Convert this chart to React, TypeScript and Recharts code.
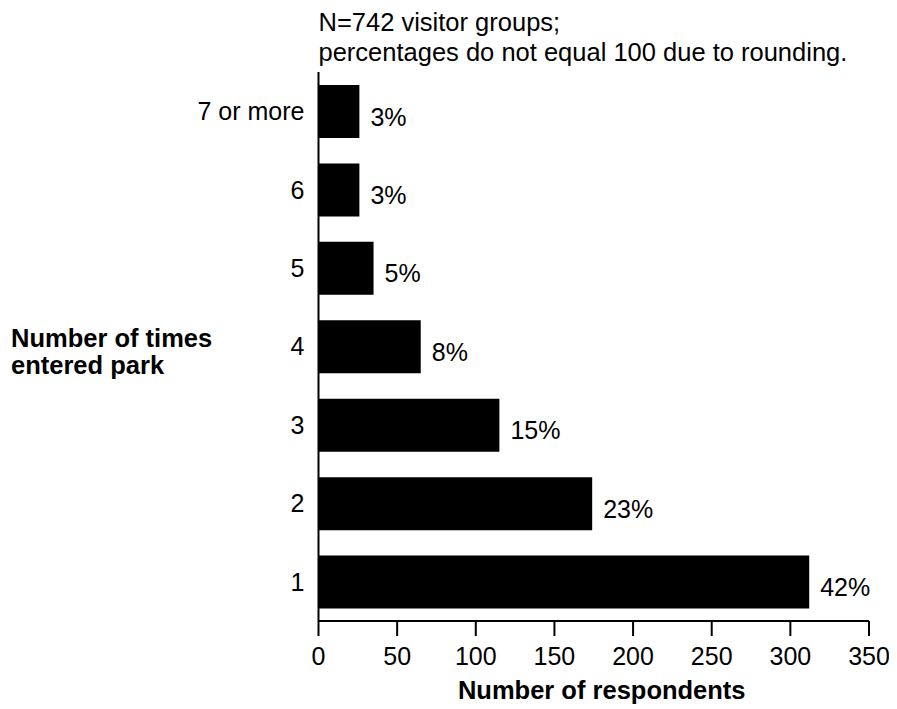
import React from 'react';
import { BarChart, Bar, XAxis, YAxis, LabelList, Label } from 'recharts';

const categories = ['7 or more', '6', '5', '4', '3', '2', '1'];
const respondents = [26, 26, 35, 65, 115, 174, 312];
const percentLabels = ['3%', '3%', '5%', '8%', '15%', '23%', '42%'];
const xTicks = [0, 50, 100, 150, 200, 250, 300, 350];
const noteLines = ['N=742 visitor groups;', 'percentages do not equal 100 due to rounding.'];
const yTitleLines = ['Number of times', 'entered park'];
const xTitle = 'Number of respondents';

const data = categories.map((c, i) => ({ category: c, value: respondents[i], pct: percentLabels[i] }));

const FONT = '"Liberation Sans", Arial, Helvetica, sans-serif';
const TICK_FS = 25;
const TITLE_FS = 25.5;

const PctLabel = (props: any) => {
  const vb = props.viewBox || {};
  const x = props.x ?? vb.x;
  const y = props.y ?? vb.y;
  const width = props.width ?? vb.width;
  const height = props.height ?? vb.height;
  const idx = props.index;
  const text = percentLabels[idx] ?? props.value;
  return (
    <text x={x + width + 11} y={y + height / 2 + 14} fontSize={TICK_FS} fontFamily={FONT} fill="#000" textAnchor="start">
      {text}
    </text>
  );
};

const YTitle = (props: any) => {
  const vb = props.viewBox;
  const cy = vb.y + vb.height / 2;
  return (
    <g>
      <text x={vb.x + 1} y={cy + 0.5} fontSize={TITLE_FS} fontWeight="bold" fontFamily={FONT} fill="#000">
        {yTitleLines[0]}
      </text>
      <text x={vb.x + 1} y={cy + 27.5} fontSize={TITLE_FS} fontWeight="bold" fontFamily={FONT} fill="#000">
        {yTitleLines[1]}
      </text>
      <text x={vb.x + vb.width} y={vb.y - 41} fontSize={TITLE_FS} fontFamily={FONT} fill="#000">
        {noteLines[0]}
      </text>
      <text x={vb.x + vb.width} y={vb.y - 11} fontSize={TITLE_FS} fontFamily={FONT} fill="#000">
        {noteLines[1]}
      </text>
    </g>
  );
};

const XTitle = (props: any) => {
  const vb = props.viewBox;
  return (
    <text x={vb.x + vb.width / 2 + 8} y={vb.y + 78} fontSize={TITLE_FS} fontWeight="bold" fontFamily={FONT} fill="#000" textAnchor="middle">
      {xTitle}
    </text>
  );
};

export default function App() {
  return (
    <div style={{ width: 889, height: 700, background: '#fff' }}>
      <BarChart
        width={889}
        height={700}
        data={data}
        layout="vertical"
        margin={{ top: 64, right: 28, bottom: 27, left: 2 }}
        barSize={53}
      >
        <XAxis
          type="number"
          dataKey="value"
          domain={[0, 350]}
          ticks={xTicks}
          interval={0}
          height={60}
          tickSize={15}
          tickMargin={11}
          axisLine={{ stroke: '#000', strokeWidth: 2 }}
          tickLine={{ stroke: '#000', strokeWidth: 2 }}
          tick={{ fill: '#000', fontSize: TICK_FS, fontFamily: FONT }}
        >
          <Label content={XTitle} />
        </XAxis>
        <YAxis
          type="category"
          dataKey="category"
          width={308.5}
          tickLine={false}
          tickSize={0}
          tickMargin={14}
          axisLine={{ stroke: '#000', strokeWidth: 2 }}
          tick={{ fill: '#000', fontSize: TICK_FS, fontFamily: FONT }}
          interval={0}
        >
          <Label content={YTitle} />
        </YAxis>
        <Bar dataKey="value" fill="#000" isAnimationActive={false}>
          <LabelList dataKey="pct" content={PctLabel} />
        </Bar>
      </BarChart>
    </div>
  );
}
